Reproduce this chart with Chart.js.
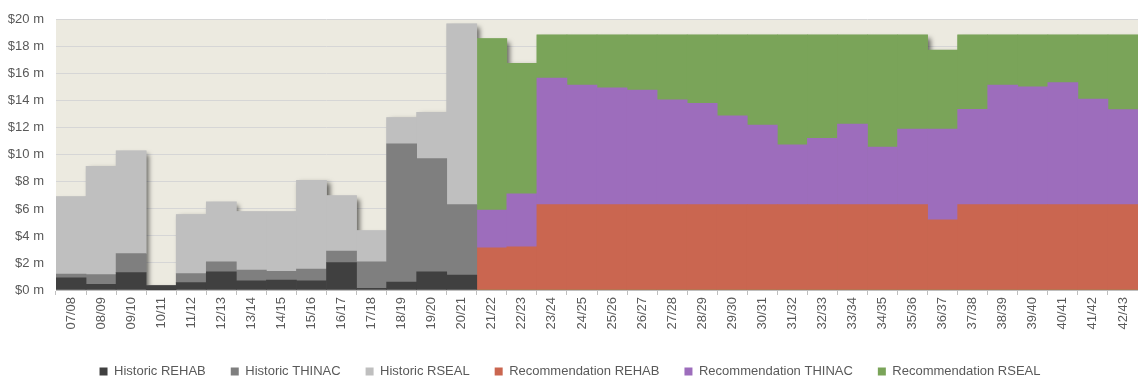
<!DOCTYPE html>
<html>
<head>
<meta charset="utf-8">
<script src="https://cdn.jsdelivr.net/npm/chart.js@4/dist/chart.umd.min.js"></script>
<style>
  html, body { margin: 0; padding: 0; background: #ffffff; }
  #wrap { width: 1138px; height: 383px; position: relative; }
</style>
</head>
<body>
<div id="wrap"><canvas id="chart"></canvas></div>
<script>
// Financial years
const years = [
  '07/08','08/09','09/10','10/11','11/12','12/13','13/14','14/15','15/16','16/17',
  '17/18','18/19','19/20','20/21','21/22','22/23','23/24','24/25','25/26','26/27',
  '27/28','28/29','29/30','30/31','31/32','32/33','33/34','34/35','35/36','36/37',
  '37/38','38/39','39/40','40/41','41/42','42/43'
];

// Historic spend ($ m), 07/08 – 20/21
const historicRehab  = [0.90, 0.42, 1.29, 0.32, 0.54, 1.34, 0.68, 0.73, 0.68, 2.03, 0.12, 0.59, 1.34, 1.10];
const historicThinac = [0.27, 0.73, 1.40, 0.00, 0.68, 0.74, 0.79, 0.66, 0.86, 0.85, 1.96, 10.23, 8.38, 5.22];
const historicRseal  = [5.74, 8.01, 7.62, 0.00, 4.37, 4.44, 4.34, 4.42, 6.57, 4.10, 2.32, 1.95, 3.44, 13.39];

// Recommended spend ($ m), 21/22 – 42/43
const recRehab  = [3.13, 3.20, 6.32, 6.32, 6.32, 6.32, 6.32, 6.32, 6.32, 6.32, 6.32,
                   6.32, 6.32, 6.32, 6.32, 5.20, 6.32, 6.32, 6.32, 6.32, 6.32, 6.32];
const recThinac = [2.78, 3.91, 9.36, 8.84, 8.65, 8.48, 7.75, 7.50, 6.57, 5.89, 4.42,
                   4.91, 5.96, 4.25, 5.60, 6.72, 7.06, 8.84, 8.72, 9.04, 7.82, 7.04];
const recRseal  = [12.70, 9.67, 3.20, 3.72, 3.91, 4.08, 4.81, 5.06, 5.99, 6.67, 8.14,
                   7.65, 6.60, 8.31, 6.96, 5.83, 5.50, 3.72, 3.84, 3.52, 4.74, 5.52];

// Y axis ticks ($ m)
const yTicks = [0, 2, 4, 6, 8, 10, 12, 14, 16, 18, 20];

const nHist = historicRehab.length;
const nRec = recRehab.length;
const pad = (arr, before, after) =>
  Array(before).fill(null).concat(arr, Array(after).fill(null));

const FONT = "'Liberation Sans', Arial, sans-serif";
const TEXT = '#595959';

// Beige plot area fill
const plotBackground = {
  id: 'plotBackground',
  beforeDraw(chart) {
    const { ctx, chartArea: a } = chart;
    ctx.save();
    ctx.fillStyle = '#ECEAE0';
    ctx.fillRect(a.left, a.top, a.right - a.left, a.bottom - a.top);
    ctx.restore();
  }
};

// Soft drop shadow behind each stacked column
const columnShadow = {
  id: 'columnShadow',
  beforeDatasetsDraw(chart) {
    const { ctx } = chart;
    const y0 = chart.scales.y.getPixelForValue(0);
    ctx.save();
    ctx.beginPath();
    ctx.rect(chart.chartArea.left, chart.chartArea.top,
             chart.chartArea.right - chart.chartArea.left,
             chart.chartArea.bottom - chart.chartArea.top);
    ctx.clip();
    ctx.shadowColor = 'rgba(0,0,0,0.6)';
    ctx.shadowBlur = 5;
    ctx.shadowOffsetX = 3;
    ctx.shadowOffsetY = 3;
    for (let i = 0; i < years.length; i++) {
      let top = null, left = null, width = null, color = null;
      chart.data.datasets.forEach((ds, d) => {
        const v = ds.data[i];
        if (v === null || v === 0) return;
        const el = chart.getDatasetMeta(d).data[i];
        if (!el) return;
        if (top === null || el.y < top) { top = el.y; color = ds.backgroundColor; }
        left = el.x - el.width / 2;
        width = el.width;
      });
      if (top === null) continue;
      ctx.fillStyle = color;
      ctx.fillRect(left, top, width, y0 - top);
    }
    ctx.restore();
  }
};

const barCommon = {
  borderWidth: 0,
  categoryPercentage: 1,
  barPercentage: 1,
  stack: 'spend'
};

new Chart(document.getElementById('chart'), {
  type: 'bar',
  data: {
    labels: years,
    datasets: [
      { ...barCommon, label: 'Historic REHAB', data: pad(historicRehab, 0, nRec), backgroundColor: '#404040' },
      { ...barCommon, label: 'Historic THINAC', data: pad(historicThinac, 0, nRec), backgroundColor: '#7F7F7F' },
      { ...barCommon, label: 'Historic RSEAL', data: pad(historicRseal, 0, nRec), backgroundColor: '#BFBFBF' },
      { ...barCommon, label: 'Recommendation REHAB', data: pad(recRehab, nHist, 0), backgroundColor: '#CA6650' },
      { ...barCommon, label: 'Recommendation THINAC', data: pad(recThinac, nHist, 0), backgroundColor: '#9D6DBC' },
      { ...barCommon, label: 'Recommendation RSEAL', data: pad(recRseal, nHist, 0), backgroundColor: '#7AA459' }
    ]
  },
  options: {
    responsive: true,
    maintainAspectRatio: false,
    animation: false,
    layout: { padding: { top: 15, right: -2, left: 0, bottom: -5 } },
    plugins: {
      legend: {
        position: 'bottom',
        labels: {
          boxWidth: 8,
          boxHeight: 8,
          padding: 25,
          color: TEXT,
          font: { family: FONT, size: 13 }
        }
      },
      tooltip: { enabled: false }
    },
    scales: {
      x: {
        stacked: true,
        afterFit(scale) {
          scale.height = 50;
          scale.paddingLeft = 0;
          scale.paddingRight = 0;
        },
        grid: {
          display: true,
          offset: true,
          drawOnChartArea: false,
          drawTicks: true,
          tickLength: 5,
          color: '#BFBFBF'
        },
        border: { display: true, color: '#BFBFBF' },
        ticks: {
          autoSkip: false,
          maxRotation: 90,
          minRotation: 90,
          padding: 2,
          color: TEXT,
          font: { family: FONT, size: 13 }
        }
      },
      y: {
        stacked: true,
        min: 0,
        max: 20,
        afterFit(scale) { scale.width = 56; },
        afterBuildTicks(scale) { scale.ticks = yTicks.map(v => ({ value: v })); },
        grid: { color: '#D6D6D6', drawTicks: false },
        border: { display: false },
        ticks: {
          padding: 12,
          color: TEXT,
          font: { family: FONT, size: 13 },
          callback: v => '$' + v + ' m'
        }
      }
    }
  },
  plugins: [plotBackground, columnShadow]
});
</script>
</body>
</html>
